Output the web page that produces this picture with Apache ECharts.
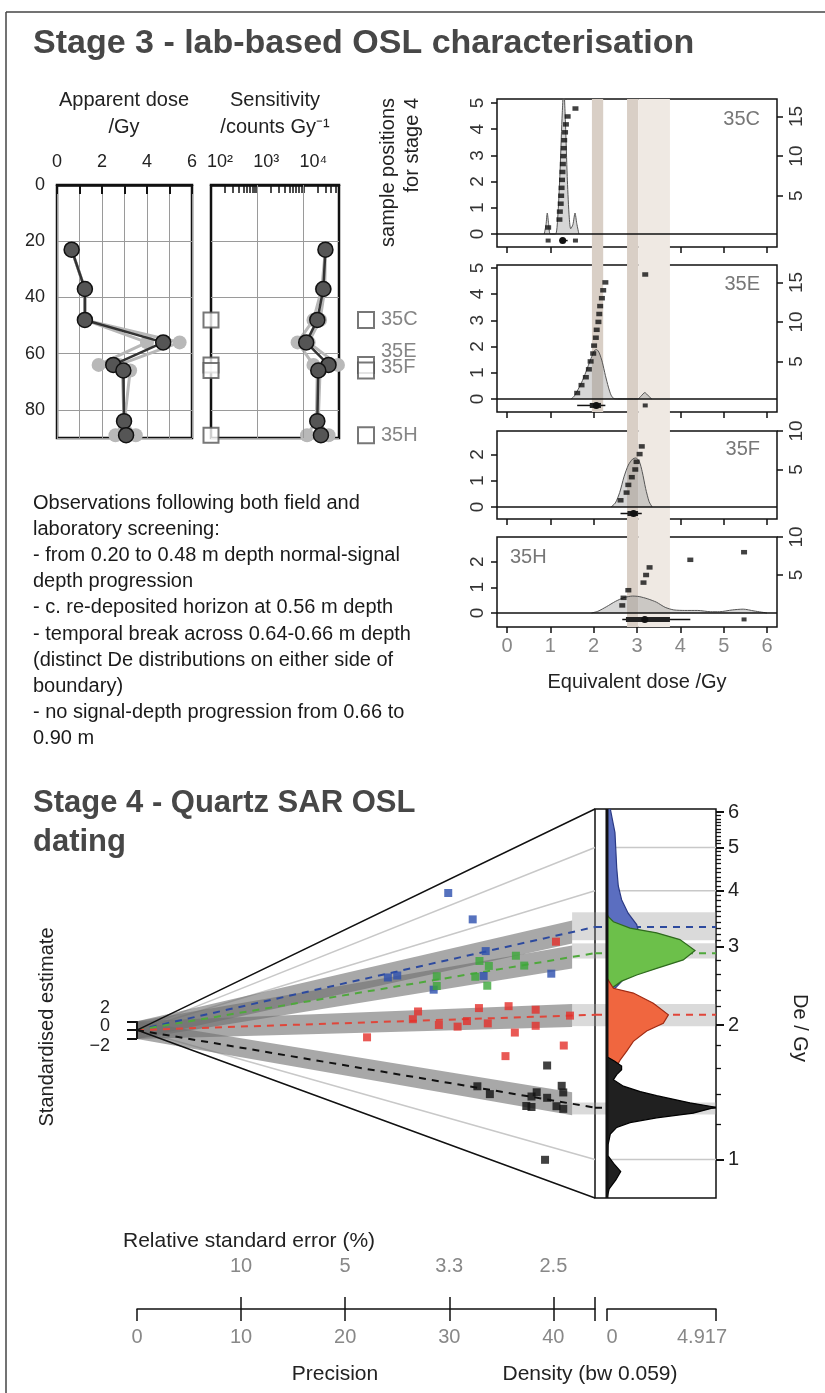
<!DOCTYPE html>
<html><head><meta charset="utf-8">
<script src="https://cdn.jsdelivr.net/npm/echarts@6/dist/echarts.min.js"></script>
<style>html,body{margin:0;padding:0;background:#fff}#c{width:825px;height:1393px}</style>
</head><body><div id="c"></div>
<script>
// ================= DATA =================
// Stage 3 profile (depth in cm)
const depths      = [23, 37, 48, 56, 64, 66, 84, 89];
const doseMain    = [0.65, 1.24, 1.24, 4.72, 2.5, 2.95, 2.98, 3.07];
const doseAlt1    = [0.65, 1.24, 1.24, 4.0, 1.85, 2.9, 2.98, 2.6];
const doseAlt2    = [0.65, 1.24, 1.24, 5.45, 2.75, 3.25, 3.0, 3.5];
const sensMain    = [30000, 27000, 20000, 11500, 35000, 21000, 20000, 24000];
const sensAlt1    = [30000, 25000, 16500, 7500, 16500, 20000, 19000, 12000];
const sensAlt2    = [30000, 29000, 23000, 13000, 56000, 23000, 21000, 35000];
const sampleNames = ['35C', '35E', '35F', '35H'];
const sampleDepth = [48, 64, 66, 89];
const doseTickLabels = [0, 2, 4, 6];
const sensTickExp = [2, 3, 4];

// Stage 3 equivalent dose panels (Gy)
const deC = [0.95,1.21,1.22,1.24,1.25,1.26,1.27,1.28,1.29,1.30,1.31,1.32,1.34,1.36,1.40,1.58];
const deE = [1.62,1.72,1.82,1.89,1.93,1.99,2.01,2.05,2.07,2.11,2.13,2.15,2.19,2.22,2.27,3.19];
const deF = [2.62,2.76,2.80,2.88,2.96,2.99,3.06,3.11];
const deH = [2.66,2.69,2.80,3.15,3.21,3.29,4.23,5.47];
const kdeC = [[0.86,0],[0.90,0.35],[0.93,0.8],[0.96,0.4],[1.0,0],[1.12,0],[1.17,0.6],[1.22,2.2],[1.27,4.4],[1.31,5.6],[1.35,4.2],[1.39,2.2],[1.43,0.8],[1.47,0.2],[1.52,0.35],[1.57,0.8],[1.61,0.4],[1.66,0]];
const kdeE = [[1.48,0],[1.55,0.1],[1.62,0.3],[1.7,0.55],[1.78,0.85],[1.86,1.2],[1.94,1.55],[2.02,1.85],[2.07,1.88],[2.13,1.75],[2.2,1.4],[2.27,0.9],[2.34,0.45],[2.4,0.15],[2.46,0.02],[2.55,0],[3.02,0],[3.1,0.12],[3.18,0.24],[3.26,0.12],[3.34,0]];
const kdeF = [[2.4,0],[2.5,0.15],[2.6,0.55],[2.7,1.15],[2.8,1.6],[2.9,1.83],[2.97,1.87],[3.05,1.75],[3.12,1.35],[3.2,0.7],[3.28,0.2],[3.35,0]];
const kdeH = [[1.95,0],[2.1,0.07],[2.3,0.25],[2.5,0.45],[2.7,0.6],[2.9,0.66],[3.05,0.64],[3.25,0.55],[3.45,0.42],[3.65,0.22],[3.85,0.12],[4.1,0.1],[4.4,0.1],[4.7,0.05],[4.9,0.05],[5.2,0.12],[5.45,0.15],[5.7,0.08],[6.0,0]];
const bandDarkA = [1.96, 2.22];   // 35C-35E
const bandDarkB = [2.77, 3.03];   // 35C-35H
const bandLight = [3.03, 3.76];   // 35C-35H
const deTicks = [0, 1, 2, 3, 4, 5, 6];

// Stage 4 abanico plot
const cRef = 1.95, precMax = 44, deMin = 0.82, deMax = 6.1, densMax = 4.917;
const bluePrec  = [24.1,25.0,28.5,29.9,32.25,33.5,33.3,39.8];
const blueDe    = [3.20,3.20,2.69,5.52,4.25,3.33,2.82,2.69];
const greenPrec = [28.8,28.8,32.5,32.9,33.8,33.65,36.4,37.2];
const greenDe   = [2.98,2.76,2.83,3.14,3.00,2.63,3.10,2.89];
const redPrec   = [22.1,26.5,27.0,29.0,30.8,31.7,32.85,33.7,35.7,36.3,38.3,38.3,41.6,41.0,35.4,40.25];
const redDe     = [1.81,2.14,2.28,2.03,2.00,2.08,2.27,2.04,2.27,1.92,2.20,2.00,2.11,1.79,1.65,3.21];
const blackPrec = [39.4,40.8,40.95,38.4,37.9,39.4,37.4,40.3,40.95,32.7,33.9,39.2,37.9];
const blackDe   = [1.59,1.43,1.38,1.35,1.31,1.32,1.23,1.27,1.26,1.32,1.27,0.92,1.23];
const centralDe = [3.32, 2.90, 2.11, 1.307];
const bandLoDe  = [3.10, 2.82, 1.99, 1.262];
const bandHiDe  = [3.58, 3.05, 2.23, 1.342];
const blueKde  = [[6.1,0.15],[5.4,0.36],[4.5,0.44],[4.1,0.51],[3.82,0.66],[3.56,0.96],[3.36,1.34],[3.11,1.52],[2.85,1.41],[2.66,1.11],[2.53,0.74],[2.44,0.44],[2.38,0.21],[2.3,0]];
const greenKde = [[3.55,0],[3.5,0.06],[3.41,0.29],[3.30,1.04],[3.22,2.24],[3.11,3.29],[2.94,3.97],[2.80,3.44],[2.68,2.24],[2.59,1.34],[2.51,0.66],[2.42,0.21],[2.35,0]];
const redKde   = [[2.55,0],[2.42,0.29],[2.36,1.19],[2.24,2.09],[2.11,2.77],[2.02,2.54],[1.94,1.79],[1.84,1.19],[1.75,0.89],[1.67,0.59],[1.62,0.44],[1.58,0]];
const blackKde = [[1.7,0],[1.66,0.35],[1.62,0.66],[1.59,0.66],[1.55,0.44],[1.51,0.29],[1.46,0.74],[1.42,1.5],[1.39,2.24],[1.34,3.74],[1.31,4.9],[1.27,3.89],[1.24,2.24],[1.21,1.04],[1.18,0.44],[1.14,0.15],[1.08,0.05],[1.02,0.04],[0.98,0.3],[0.94,0.62],[0.9,0.4],[0.86,0.1],[0.82,0]];
const refLineDe = [1, 4, 5];
const deAxisMajor = [1, 2, 3, 4, 5, 6];
const deAxisMinor = [1.2,1.4,1.6,1.8,2.2,2.4,2.6,2.8,3.1,3.2,3.3,3.4,3.5,3.6,3.7,3.8,3.9,4.1,4.2,4.3,4.4,4.5,4.6,4.7,4.8,4.9,5.1,5.2,5.3,5.4,5.5,5.6,5.7,5.8,5.9];
const precTicks = [0, 10, 20, 30, 40];

// ================= HELPERS =================
const FF = '"Liberation Sans", Arial, Helvetica, sans-serif';
const L10 = Math.log10;
const zOf = (de, p) => Math.log(de / cRef) * p;
const sup = {2:'\u00b2', 3:'\u00b3', 4:'\u2074'};
const groupCol  = ['#2c4fae', '#3ca83a', '#e3302a', '#111111'];
const dashCol   = ['#2d4a9e', '#4fa83c', '#e0463a', '#111111'];
const kdeFill   = ['#5b6ec0', '#6cc04a', '#f0663f', '#202020'];
const kdeStroke = ['#2b3a85', '#2f6a1e', '#a02a12', '#000000'];
const grpPrec = [bluePrec, greenPrec, redPrec, blackPrec];
const grpDe   = [blueDe, greenDe, redDe, blackDe];
const grpKde  = [blueKde, greenKde, redKde, blackKde];

function fivenum(a) {
  const s = [...a].sort((x, y) => x - y), n = s.length;
  const n4 = Math.floor((n + 3) / 2) / 2;
  return [1, n4, (n + 1) / 2, n + 1 - n4, n].map(v => 0.5 * (s[Math.floor(v) - 1] + s[Math.ceil(v) - 1]));
}
function poly(xi, yi, ptsFn, style, z, clip) {
  return {type:'custom', xAxisIndex:xi, yAxisIndex:yi, data:[[0,0]], z:z, silent:true, animation:false, clip: clip !== false,
    renderItem: function (p, api) { return {type:'polygon', shape:{points: ptsFn().map(q => api.coord(q))}, style: style}; }};
}
function seg(xi, yi, pts, color, width, z, dash, clip) {
  return {type:'line', xAxisIndex:xi, yAxisIndex:yi, data:pts, symbol:'none', silent:true, z:z, clip: clip !== false,
    lineStyle:{color:color, width:width, type: dash ? [7,6] : 'solid'}, animation:false};
}
function gridBox(l, t, w, h, show, bw) {
  return {left:l, top:t, width:w, height:h, show:!!show, borderColor:'#111', borderWidth:bw || 1.5, backgroundColor:'transparent', containLabel:false};
}
const hiddenX = (g, min, max) => ({gridIndex:g, type:'value', min:min, max:max, show:false});
const hiddenY = (g, min, max, inv) => ({gridIndex:g, type:'value', min:min, max:max, show:false, inverse:!!inv});

const grids = [], xAxes = [], yAxes = [], series = [];

// ================= STAGE 3 PROFILE =================
grids.push(gridBox(57, 185, 135, 253, true, 2.5));   // 0 dose
grids.push(gridBox(211, 185, 128, 253, true, 2.5));  // 1 sensitivity
grids.push(gridBox(358, 185, 16, 253, false));       // 2 sample labels
const depthY = (g, labels) => ({gridIndex:g, type:'value', inverse:true, min:0, max:90, interval:20,
  axisLine:{show:false, onZero:false}, axisTick:{show:false},
  axisLabel:{show:labels, showMaxLabel:false, fontSize:18, color:'#222', margin:12, fontFamily:FF},
  splitLine:{show:true, lineStyle:{color:'#9a9a9a', width:1}}});
xAxes.push({gridIndex:0, type:'value', position:'top', min:0, max:6, interval:1,
  axisLine:{onZero:false, lineStyle:{color:'#111', width:2.5}},
  axisTick:{inside:true, length:9, lineStyle:{color:'#111', width:2}},
  axisLabel:{customValues:doseTickLabels, fontSize:18, color:'#222', margin:14, fontFamily:FF},
  splitLine:{show:true, lineStyle:{color:'#9a9a9a', width:1}}});
const sensMinor = [];
for (let n = 2; n <= 4; n++) for (let k = 1; k <= 9; k++) { const v = k * Math.pow(10, n); if (v < 59000) sensMinor.push(L10(v)); }
xAxes.push({gridIndex:1, type:'value', position:'top', min:2, max:L10(59000),
  axisLine:{onZero:false, lineStyle:{color:'#111', width:2.5}},
  axisTick:{inside:true, length:8, customValues:sensMinor, lineStyle:{color:'#111', width:1.5}},
  axisLabel:{customValues:sensTickExp, formatter: v => '10' + sup[Math.round(v)], fontSize:18, color:'#222', margin:14, fontFamily:FF,
    align:'left', padding:[0,0,0,-4]},
  splitLine:{show:false}});
xAxes.push(hiddenX(2, -1, 1));
yAxes.push(depthY(0, true));
yAxes.push(depthY(1, false));
yAxes.push(hiddenY(2, 0, 90, true));

function profSeries(vals, xi, main, tf) {
  return {type:'line', xAxisIndex:xi, yAxisIndex:xi, data: depths.map((d, i) => [tf ? tf(vals[i]) : vals[i], d]),
    symbol:'circle', symbolSize: main ? 15 : 14, silent:true, animation:false, z: main ? 6 : 4, clip:false,
    lineStyle:{color: main ? '#333' : '#b8b8b8', width: main ? 2.5 : 3},
    itemStyle: main ? {color:'#555', borderColor:'#111', borderWidth:1.5} : {color:'#b8b8b8'}};
}
series.push(profSeries(doseAlt1, 0, false), profSeries(doseAlt2, 0, false), profSeries(doseMain, 0, true));
series.push(profSeries(sensAlt1, 1, false, L10), profSeries(sensAlt2, 1, false, L10));
const sensMainS = profSeries(sensMain, 1, true, L10);
sensMainS.markLine = {silent:true, symbol:'none', label:{show:false}, animation:false,
  lineStyle:{color:'#9a9a9a', width:1, type:'solid'}, data: sensTickExp.slice(1).map(e => ({xAxis: e}))};
series.push(sensMainS);
series.push({type:'scatter', xAxisIndex:1, yAxisIndex:1, data: sampleDepth.map(d => [2, d]), symbol:'rect', symbolSize:15, clip:false,
  itemStyle:{color:'#fff', borderColor:'#555', borderWidth:2}, z:7, silent:true, animation:false});
const labOff = [[0, 0], [0, -13], [0, -3], [0, 0]];
series.push({type:'scatter', xAxisIndex:2, yAxisIndex:2, clip:false, silent:true, animation:false, z:7,
  data: sampleDepth.map((d, i) => ({value:[0, d], label:{offset: labOff[i]}})),
  symbol:'rect', symbolSize:16, itemStyle:{color:'#fff', borderColor:'#555', borderWidth:2},
  label:{show:true, position:'right', distance:6, formatter: p => sampleNames[p.dataIndex], fontSize:20, color:'#666', fontFamily:FF}});

// ================= STAGE 3 De PANELS =================
const panelDe = [deC, deE, deF, deH], panelKde = [kdeC, kdeE, kdeF, kdeH];
const pTop = [99, 265, 431, 537], pH = [148, 147, 88, 90];
const lMin = [-0.496, -0.5, -0.46, -0.545], lMax = [5.15, 5.11, 2.9, 2.96];
const rMin = [-1.46, -1.4, -1.43, -1.84], rMax = [17.2, 17.2, 10, 10];
const lTicks = [[0,1,2,3,4,5],[0,1,2,3,4,5],[0,1,2],[0,1,2]];
const rTicks = [[5,10,15],[5,10,15],[5,10],[5,10]];
const RUG_Y = -0.25, PX0 = -0.23, PX1 = 6.23;
for (let i = 0; i < 4; i++) {
  grids.push(gridBox(497, pTop[i], 280, pH[i], true, 1.5)); // grids 3..6
  const last = i === 3;
  xAxes.push({gridIndex:3 + i, type:'value', min:PX0, max:PX1, position:'bottom',
    axisLine:{show:false, onZero:false}, axisTick:{show:true, length:6, customValues:deTicks, lineStyle:{color:'#111', width:1.5}},
    axisLabel:{show:last, customValues:deTicks, fontSize:20, color:'#888', margin:9, fontFamily:FF},
    splitLine:{show:false},
    name: last ? 'Equivalent dose /Gy' : '', nameLocation:'middle', nameGap:45,
    nameTextStyle:{fontSize:20, color:'#222', fontFamily:FF}});
}
for (let i = 0; i < 4; i++) {
  yAxes.push({gridIndex:3 + i, type:'value', min:lMin[i], max:lMax[i], position:'left',
    axisLine:{show:false, onZero:false}, axisTick:{length:6, customValues:lTicks[i], lineStyle:{color:'#111', width:1.5}},
    axisLabel:{customValues:lTicks[i], rotate:90, fontSize:19, color:'#333', margin:10, fontFamily:FF},
    splitLine:{show:false}});
}
for (let i = 0; i < 4; i++) {
  yAxes.push({gridIndex:3 + i, type:'value', min:rMin[i], max:rMax[i], position:'right',
    axisLine:{show:false, onZero:false}, axisTick:{length:6, customValues:rTicks[i], lineStyle:{color:'#111', width:1.5}},
    axisLabel:{customValues:rTicks[i], rotate:90, fontSize:19, color:'#333', margin:10, fontFamily:FF},
    splitLine:{show:false}});
}
// band overlays
grids.push(gridBox(497, 99, 280, 313, false));  // 7
grids.push(gridBox(497, 99, 280, 528, false));  // 8
xAxes.push(hiddenX(7, PX0, PX1), hiddenX(8, PX0, PX1));
yAxes.push(hiddenY(7, 0, 1), hiddenY(8, 0, 1));
function bandSeries(xi, yi, ranges, colors) {
  return {type:'scatter', xAxisIndex:xi, yAxisIndex:yi, data:[], z:0, silent:true, animation:false,
    markArea:{silent:true, animation:false, data: ranges.map((r, k) => [{xAxis:r[0], itemStyle:{color:colors[k]}}, {xAxis:r[1]}])}};
}
series.push(bandSeries(7, 11, [bandDarkA], ['#d9cfc6']));
series.push(bandSeries(8, 12, [bandDarkB, bandLight], ['#d9cfc6', '#efe9e3']));

for (let i = 0; i < 4; i++) {
  const xi = 3 + i;
  series.push({type:'line', xAxisIndex:xi, yAxisIndex:xi, data: panelKde[i], smooth:0.25, symbol:'none', silent:true, animation:false, z:3,
    lineStyle:{color:'#555', width:1}, areaStyle:{color:'rgba(140,140,140,0.5)'},
    markLine:{silent:true, symbol:'none', label:{show:false}, animation:false, lineStyle:{color:'#111', width:1.5, type:'solid'}, data:[{yAxis:0}]}});
  series.push({type:'scatter', xAxisIndex:xi, yAxisIndex:7 + i, data: panelDe[i].map((d, j) => [d, j + 1]),
    symbol:'rect', symbolSize:[6, 4.5], itemStyle:{color:'#111'}, z:5, silent:true, animation:false});
  const vals = panelDe[i], f = fivenum(vals), iqr = f[3] - f[1];
  const lo = f[1] - 1.5 * iqr, hi = f[3] + 1.5 * iqr;
  const ins = vals.filter(v => v >= lo && v <= hi), outl = vals.filter(v => v < lo || v > hi);
  const wl = Math.min(...ins), wh = Math.max(...ins);
  series.push({type:'custom', xAxisIndex:xi, yAxisIndex:xi, data:[[f[2], RUG_Y]], z:6, silent:true, animation:false,
    renderItem: function (p, api) {
      const a = api.coord([wl, RUG_Y]), b = api.coord([wh, RUG_Y]), q1 = api.coord([f[1], RUG_Y]), q3 = api.coord([f[3], RUG_Y]), m = api.coord([f[2], RUG_Y]);
      return {type:'group', children:[
        {type:'line', shape:{x1:a[0], y1:a[1], x2:b[0], y2:b[1]}, style:{stroke:'#111', lineWidth:1.5}},
        {type:'rect', shape:{x:q1[0], y:q1[1] - 2.5, width:Math.max(1, q3[0] - q1[0]), height:5}, style:{fill:'#222'}},
        {type:'circle', shape:{cx:m[0], cy:m[1], r:3.5}, style:{fill:'#111'}}]};
    }});
  series.push({type:'scatter', xAxisIndex:xi, yAxisIndex:xi, data: outl.map(v => [v, RUG_Y]), symbol:'rect', symbolSize:[5, 4],
    itemStyle:{color:'#111'}, z:6, silent:true, animation:false});
}

// ================= STAGE 4 ABANICO =================
const zMin = zOf(deMin, precMax), zMax = zOf(deMax, precMax);
const yLo = L10(deMin), yHi = L10(deMax);
const densX0 = -0.54, xEnd = 41.8;
grids.push(gridBox(137, 809, 458, 389, false));        // 9 radial
grids.push(gridBox(595, 809, 121, 389, true, 1.5));    // 10 density
grids.push(gridBox(607, 809, 109, 389, false));        // 11 density bottom axis
grids.push(gridBox(137, 809, 458, 389, false));        // 12 RSE axis
grids.push(gridBox(595, 809, 121, 389, false));        // 13 minor De ticks
// x axes 9..13
xAxes.push({gridIndex:9, type:'value', min:0, max:precMax, position:'bottom', offset:111,
  axisLine:{onZero:false, lineStyle:{color:'#111', width:1.5}},
  axisTick:{length:12, customValues: precTicks.concat([precMax]), lineStyle:{color:'#111', width:1.5}},
  axisLabel:{customValues:precTicks, fontSize:20, color:'#888', margin:18, fontFamily:FF}, splitLine:{show:false}});
xAxes.push(hiddenX(10, densX0, densMax));
xAxes.push({gridIndex:11, type:'value', min:0, max:densMax, position:'bottom', offset:111,
  axisLine:{onZero:false, lineStyle:{color:'#111', width:1.5}},
  axisTick:{length:12, customValues:[0, densMax], lineStyle:{color:'#111', width:1.5}},
  axisLabel:{customValues:[0, densMax], showMaxLabel:true, showMinLabel:true, fontSize:20, color:'#888', margin:18, fontFamily:FF,
    formatter: v => v === 0 ? '{a|0}' : '{b|' + densMax + '}',
    rich:{a:{fontSize:20, color:'#888', padding:[0,0,0,10], fontFamily:FF}, b:{fontSize:20, color:'#888', padding:[0,28,0,0], fontFamily:FF}}},
  splitLine:{show:false}});
xAxes.push({gridIndex:12, type:'value', min:0, max:precMax, position:'bottom', offset:111,
  axisLine:{show:false, onZero:false},
  axisTick:{inside:true, length:12, customValues: precTicks.slice(1).concat([precMax]), lineStyle:{color:'#111', width:1.5}},
  axisLabel:{inside:true, customValues:precTicks.slice(1), formatter: v => String(+(100 / v).toFixed(1)),
    fontSize:20, color:'#888', margin:33, fontFamily:FF}, splitLine:{show:false}});
xAxes.push(hiddenX(13, densX0, densMax));
// y axes 13..17
yAxes.push({gridIndex:9, type:'value', min:zMin, max:zMax, position:'left',
  axisLine:{show:false, onZero:false}, axisTick:{length:10, customValues:[-2, 0, 2], lineStyle:{color:'#111', width:2}},
  axisLabel:{show:false}, splitLine:{show:false}});
yAxes.push({gridIndex:10, type:'value', min:yLo, max:yHi, position:'right',
  axisLine:{show:false, onZero:false}, axisTick:{length:8, customValues: deAxisMajor.map(L10), lineStyle:{color:'#111', width:2}},
  axisLabel:{customValues: deAxisMajor.map(L10), formatter: v => String(Math.round(Math.pow(10, v))),
    fontSize:20, color:'#222', margin:12, fontFamily:FF}, splitLine:{show:false}});
yAxes.push(hiddenY(11, yLo, yHi));
yAxes.push(hiddenY(12, zMin, zMax));
yAxes.push({gridIndex:13, type:'value', min:yLo, max:yHi, position:'right',
  axisLine:{show:false, onZero:false}, axisTick:{length:5, customValues: deAxisMinor.map(L10), lineStyle:{color:'#111', width:1.3}},
  axisLabel:{show:false}, splitLine:{show:false}});
const RX = 9, RY = 13, DX = 10, DY = 14;

// radial: reference lines
refLineDe.forEach(d => series.push(seg(RX, RY, [[0, 0], [precMax, zOf(d, precMax)]], '#c8c8c8', 1.5, 1)));
// light bands (radial tail + density panel) and dark bands
for (let g = 0; g < 4; g++) {
  const lo = bandLoDe[g], hi = bandHiDe[g], c = centralDe[g];
  series.push(poly(RX, RY, () => [[xEnd, zOf(lo, precMax)], [precMax, zOf(lo, precMax)], [precMax, zOf(hi, precMax)], [xEnd, zOf(hi, precMax)]],
    {fill:'rgba(150,150,150,0.35)'}, 2));
  series.push(poly(DX, DY, () => [[densX0, L10(lo)], [densMax, L10(lo)], [densMax, L10(hi)], [densX0, L10(hi)]],
    {fill:'rgba(150,150,150,0.35)'}, 1));
  series.push(poly(RX, RY, () => [[0, -2], [xEnd, zOf(c, xEnd) - 2.6], [xEnd, zOf(c, xEnd) + 2.6], [0, 2]],
    {fill:'rgba(110,110,110,0.6)'}, 2));
}
// dashed central lines
for (let g = 0; g < 4; g++) {
  const c = centralDe[g];
  series.push(seg(RX, RY, [[0, 0], [precMax, zOf(c, precMax)]], dashCol[g], 2, 3, true));
  series.push(seg(DX, DY, [[densX0, L10(c)], [densMax, L10(c)]], dashCol[g], 2, 3, true));
}
// polygon edges + bracket
series.push(seg(RX, RY, [[precMax, zMax], [0, 0], [precMax, zMin]], '#111', 1.5, 4, false, false));
series.push(seg(RX, RY, [[0, -2], [0, 2]], '#111', 2, 4, false, false));
// points
for (let g = 0; g < 4; g++) {
  series.push({type:'scatter', xAxisIndex:RX, yAxisIndex:RY, data: grpPrec[g].map((p, i) => [p, zOf(grpDe[g][i], p)]),
    symbol:'rect', symbolSize:8, itemStyle:{color:groupCol[g]}, z:5, silent:true, animation:false});
}
// density panel: grey lines, KDEs, zero line
refLineDe.forEach(d => series.push(seg(DX, DY, [[0, L10(d)], [densMax, L10(d)]], '#c8c8c8', 1.5, 2)));
for (let g = 0; g < 4; g++) {
  const k = grpKde[g];
  series.push(poly(DX, DY, () => [[0, L10(k[0][0])]].concat(k.map(q => [q[1], L10(q[0])])).concat([[0, L10(k[k.length - 1][0])]]),
    {fill:kdeFill[g], stroke:kdeStroke[g], lineWidth:1.2, blend:'multiply'}, 4));
}
series.push(seg(DX, DY, [[0, yLo], [0, yHi]], '#111', 3, 6, false, false));

// ================= TEXT =================
const T = (x, y, text, size, color, opts) => Object.assign({type:'text', x:x, y:y, silent:true,
  style:Object.assign({text:text, fontSize:size, fontFamily:FF, fill:color, textAlign:'left', textVerticalAlign:'middle'}, (opts && opts.style) || {})},
  opts ? {rotation: opts.rotation || 0} : {});
const obsLines = ['Observations following both field and', 'laboratory screening:', '- from 0.20 to 0.48 m depth normal-signal',
  'depth progression', '- c. re-deposited horizon at 0.56 m depth', '- temporal break across 0.64-0.66 m depth',
  '(distinct De distributions on either side of', 'boundary)', '- no signal-depth progression from 0.66 to', '0.90 m'];
const graphic = [
  {type:'line', silent:true, shape:{x1:6, y1:12, x2:825, y2:12}, style:{stroke:'#444', lineWidth:1.5}},
  {type:'line', silent:true, shape:{x1:6, y1:12, x2:6, y2:1393}, style:{stroke:'#444', lineWidth:1.5}},
  T(33, 44, 'Stage 3 - lab-based OSL characterisation', 34, '#474747', {style:{fontWeight:'bold'}}),
  T(33, 803, 'Stage 4 - Quartz SAR OSL', 31, '#474747', {style:{fontWeight:'bold'}}),
  T(33, 842, 'dating', 31, '#474747', {style:{fontWeight:'bold'}}),
  T(124, 100, 'Apparent dose', 20, '#222', {style:{textAlign:'center'}}),
  T(124, 127, '/Gy', 20, '#222', {style:{textAlign:'center'}}),
  T(275, 100, 'Sensitivity', 20, '#222', {style:{textAlign:'center'}}),
  T(275, 127, '/counts Gy\u207b\u00b9', 20, '#222', {style:{textAlign:'center'}}),
  T(388, 98, 'sample positions', 20, '#222', {rotation:Math.PI / 2, style:{textAlign:'right'}}),
  T(412, 98, 'for stage 4', 20, '#222', {rotation:Math.PI / 2, style:{textAlign:'right'}}),
  T(760, 119, '35C', 20, '#777', {style:{textAlign:'right'}}),
  T(760, 284, '35E', 20, '#777', {style:{textAlign:'right'}}),
  T(760, 449, '35F', 20, '#777', {style:{textAlign:'right'}}),
  T(510, 557, '35H', 20, '#777'),
  {type:'text', x:33, y:490, silent:true, style:{text: obsLines.join('\n'), fontSize:20, lineHeight:26.2, fontFamily:FF, fill:'#1a1a1a', textAlign:'left', textVerticalAlign:'top'}},
  T(47, 1027, 'Standardised estimate', 20, '#222', {rotation:Math.PI / 2, style:{textAlign:'center'}}),
  T(800, 1028, 'De / Gy', 20, '#222', {rotation:-Math.PI / 2, style:{textAlign:'center'}}),
  T(110, 1008, '2', 18, '#222', {style:{textAlign:'right'}}),
  T(110, 1026, '0', 18, '#222', {style:{textAlign:'right'}}),
  T(110, 1046, '\u22122', 18, '#222', {style:{textAlign:'right'}}),
  T(123, 1241, 'Relative standard error (%)', 21, '#222'),
  T(335, 1374, 'Precision', 21, '#222', {style:{textAlign:'center'}}),
  T(590, 1374, 'Density (bw 0.059)', 21, '#222', {style:{textAlign:'center'}})
];

const chart = echarts.init(document.getElementById('c'), null, {renderer:'canvas'});
chart.setOption({
  animation:false, backgroundColor:'#fff', textStyle:{fontFamily:FF},
  grid:grids, xAxis:xAxes, yAxis:yAxes, series:series, graphic:graphic
});
</script></body></html>
